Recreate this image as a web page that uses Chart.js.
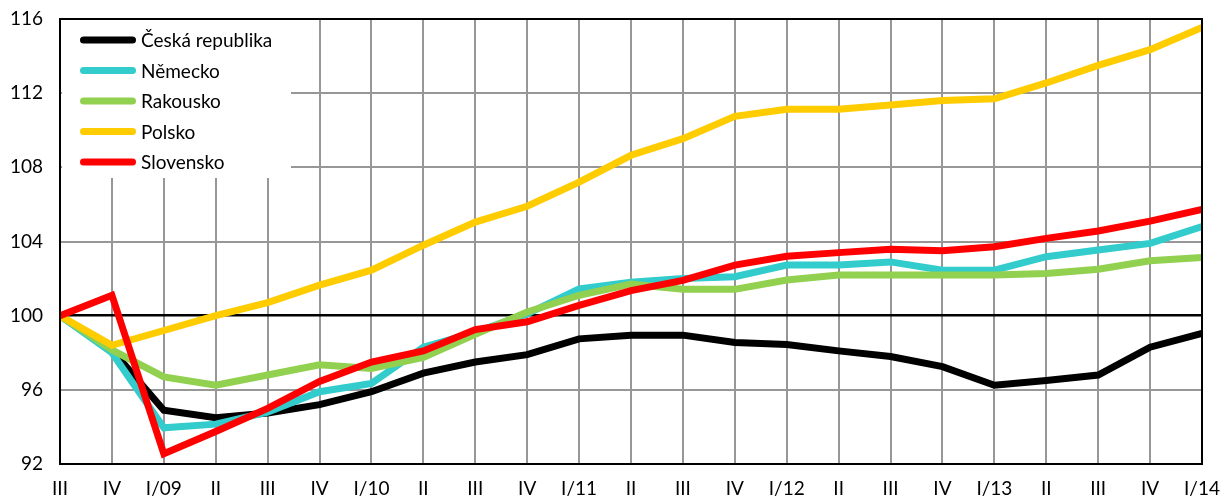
<!DOCTYPE html>
<html>
<head>
<meta charset="utf-8">
<script src="https://cdn.jsdelivr.net/npm/chart.js@4.4.1/dist/chart.umd.min.js"></script>
<style>
html,body{margin:0;padding:0;background:#fff;}
#wrap{width:1224px;height:501px;}
</style>
</head>
<body>
<div id="wrap"><canvas id="c" width="1224" height="501"></canvas></div>
<script>
const categories = ['III','IV','I/09','II','III','IV','I/10','II','III','IV','I/11','II','III','IV','I/12','II','III','IV','I/13','II','III','IV','I/14'];
const ceskaRepublika = [100, 98.15, 94.9, 94.5, 94.75, 95.2, 95.9, 96.9, 97.5, 97.9, 98.75, 98.95, 98.95, 98.55, 98.45, 98.1, 97.8, 97.25, 96.25, 96.5, 96.8, 98.3, 99.05];
const nemecko = [100, 98.0, 93.95, 94.15, 94.8, 95.9, 96.35, 98.3, 99.1, 100.1, 101.45, 101.8, 102.0, 102.1, 102.73, 102.73, 102.9, 102.45, 102.45, 103.18, 103.54, 103.9, 104.8];
const rakousko = [100, 98.15, 96.7, 96.25, 96.8, 97.35, 97.15, 97.75, 99.0, 100.2, 101.1, 101.7, 101.42, 101.42, 101.92, 102.19, 102.19, 102.19, 102.19, 102.28, 102.5, 102.96, 103.14];
const polsko = [100, 98.4, 99.2, 100.0, 100.7, 101.65, 102.45, 103.8, 105.05, 105.9, 107.2, 108.65, 109.55, 110.75, 111.13, 111.13, 111.36, 111.6, 111.7, 112.55, 113.5, 114.35, 115.55];
const slovensko = [100, 101.1, 92.55, 93.75, 95.0, 96.45, 97.5, 98.1, 99.25, 99.67, 100.55, 101.35, 101.9, 102.73, 103.2, 103.4, 103.58, 103.5, 103.72, 104.17, 104.57, 105.1, 105.73];
const yTicks = [92, 96, 100, 104, 108, 112, 116];

const FONT = 'Lato, "Open Sans", sans-serif';
const FS = 19;

function ds(label, data, color, order) {
  return {label, data, order, borderColor: color, backgroundColor: color, borderWidth: 7,
    pointRadius: 0, pointHoverRadius: 0, tension: 0, fill: false,
    borderJoinStyle: 'miter', borderCapStyle: 'butt', clip: 0};
}

const frameAndLegend = {
  id: 'frameAndLegend',
  afterDatasetsDraw(chart) {
    const {ctx, chartArea: a} = chart;
    ctx.save();
    ctx.fillStyle = '#fff';
    ctx.fillRect(a.left + 2, a.top + 1, 229, 158);
    chart.data.datasets.forEach((d, i) => {
      const y = a.top + 21 + i * 30.5;
      ctx.strokeStyle = d.borderColor;
      ctx.lineWidth = 7;
      ctx.lineCap = 'round';
      ctx.beginPath();
      ctx.moveTo(a.left + 23.5, y);
      ctx.lineTo(a.left + 72.5, y);
      ctx.stroke();
      ctx.fillStyle = '#000';
      ctx.font = FS + 'px ' + FONT;
      ctx.textBaseline = 'middle';
      ctx.textAlign = 'left';
      ctx.fillText(d.label, a.left + 81, y + 1);
    });
    ctx.strokeStyle = '#000';
    ctx.lineWidth = 2;
    ctx.lineCap = 'butt';
    ctx.strokeRect(a.left, a.top, a.right - a.left, a.bottom - a.top);
    ctx.restore();
  }
};

const chart = new Chart(document.getElementById('c'), {
  type: 'line',
  data: {
    labels: categories,
    datasets: [
      ds('Česká republika', ceskaRepublika, '#000000', 5),
      ds('Německo', nemecko, '#33CCCC', 4),
      ds('Rakousko', rakousko, '#92D050', 3),
      ds('Polsko', polsko, '#FFCC00', 2),
      ds('Slovensko', slovensko, '#FF0000', 1)
    ]
  },
  options: {
    responsive: false,
    animation: false,
    events: [],
    layout: {padding: {left: 0, right: 22, top: 19, bottom: 0}},
    plugins: {legend: {display: false}, tooltip: {enabled: false}},
    scales: {
      x: {
        offset: false,
        grid: {color: '#979797', lineWidth: 2, drawTicks: false},
        border: {display: false},
        ticks: {color: '#000', font: {family: FONT, size: FS}, padding: 13, maxRotation: 0, autoSkip: false},
        afterFit(s) { s.height = 37; s.paddingLeft = 0; s.paddingRight = 0; }
      },
      y: {
        min: 92, max: 116,
        afterBuildTicks(s) { s.ticks = yTicks.map(v => ({value: v})); },
        grid: {color: c => c.tick && c.tick.value === 100 ? '#000' : '#979797', lineWidth: c => c.tick && c.tick.value === 100 ? 2.5 : 2, drawTicks: false},
        border: {display: false},
        ticks: {color: '#000', font: {family: FONT, size: FS}, padding: 17},
        afterFit(s) { s.width = 60; s.paddingTop = 0; s.paddingBottom = 0; }
      }
    }
  },
  plugins: [frameAndLegend]
});
</script>
</body>
</html>
